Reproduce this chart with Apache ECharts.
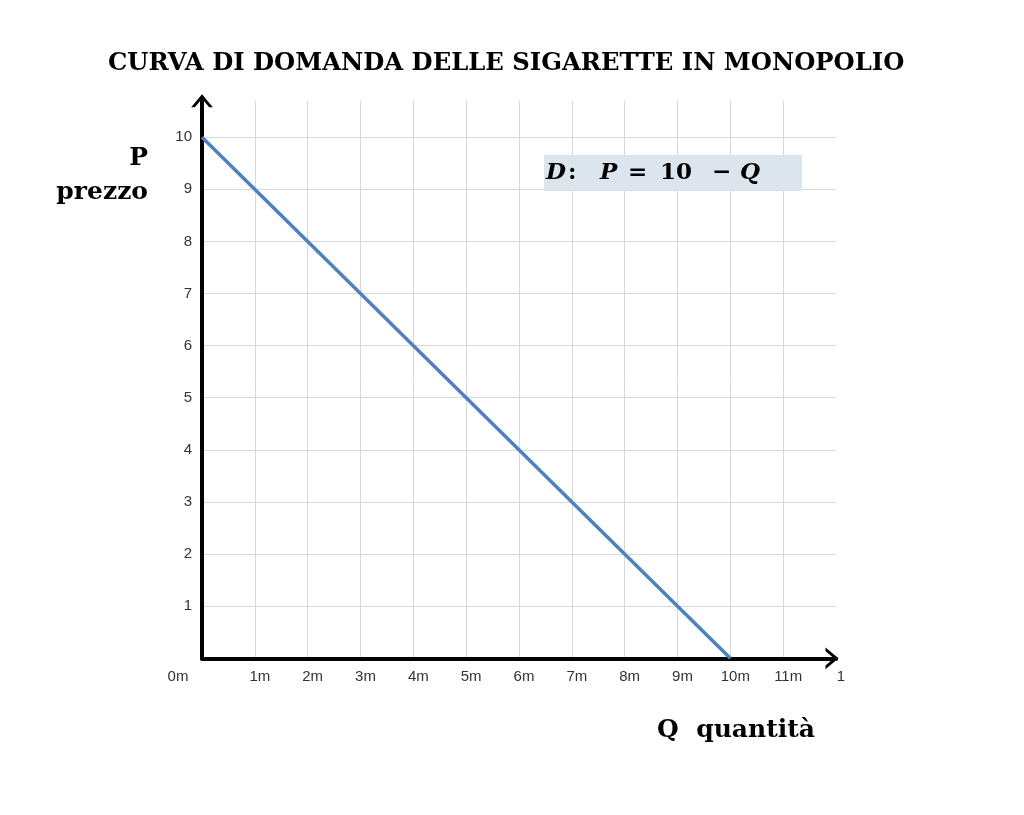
<!DOCTYPE html>
<html>
<head>
<meta charset="utf-8">
<script src="https://cdn.jsdelivr.net/npm/echarts@6/dist/echarts.min.js"></script>
<style>
html,body{margin:0;padding:0;background:#fff;}
#chart{width:1024px;height:815px;}
</style>
</head>
<body>
<div id="chart"></div>
<script>
// Data
const titleText = 'CURVA DI DOMANDA DELLE SIGARETTE IN MONOPOLIO';
const quantity = [0, 10];      // Q (millions)
const price = [10, 0];         // P
const xTickLabels = ['0m','1m','2m','3m','4m','5m','6m','7m','8m','9m','10m','11m','1'];
const yTickLabels = ['', '1','2','3','4','5','6','7','8','9','10'];

const chevron = 'path://M0,12 L10,0 L20,12 L16.6,12 L10,4.2 L3.4,12 Z';
const serif = '"DejaVu Serif", "Liberation Serif", serif';

const chart = echarts.init(document.getElementById('chart'));
chart.setOption({
  backgroundColor: '#ffffff',
  animation: false,
  title: [
    { text: titleText, left: 103, top: 47,
      textStyle: { fontFamily: serif, fontWeight: 'bold', fontSize: 24.3, color: '#000' } },
    { text: 'P\nprezzo', left: 143, top: 136, textAlign: 'right',
      textStyle: { fontFamily: serif, fontWeight: 'bold', fontSize: 25, lineHeight: 34, color: '#000', align: 'right' } },
    { text: 'Q  quantità', left: 652, top: 713,
      textStyle: { fontFamily: serif, fontWeight: 'bold', fontSize: 25, color: '#000' } },
    { text: '{i1|D}{c|:}{i2|P}{e|=}{t|10}{m|−}{i3|Q}', left: 544, top: 155,
      backgroundColor: '#dce4ee', padding: [7, 42, 6, 2],
      textStyle: {
        rich: {
          i1: { fontFamily: serif, fontWeight: 'bold', fontStyle: 'italic', fontSize: 23, color: '#000', width: 22 },
          c:  { fontFamily: serif, fontWeight: 'bold', fontSize: 23, color: '#000', width: 32 },
          i2: { fontFamily: serif, fontWeight: 'bold', fontStyle: 'italic', fontSize: 23, color: '#000', width: 28 },
          e:  { fontFamily: serif, fontWeight: 'bold', fontSize: 23, color: '#000', width: 32 },
          t:  { fontFamily: serif, fontWeight: 'bold', fontSize: 23, color: '#000', width: 52 },
          m:  { fontFamily: serif, fontWeight: 'bold', fontSize: 23, color: '#000', width: 28 },
          i3: { fontFamily: serif, fontWeight: 'bold', fontStyle: 'italic', fontSize: 23, color: '#000' }
        }
      } }
  ],
  grid: { left: 202, right: 188, top: 100.7, bottom: 156.7, containLabel: false },
  xAxis: {
    type: 'value', min: 0, max: 12, interval: 1,
    axisLine: { show: true, lineStyle: { color: '#000', width: 4 },
      symbol: ['none', chevron], symbolSize: [22, 13], symbolOffset: [0, -4] },
    axisTick: { show: false },
    splitLine: { show: true, showMaxLine: false, lineStyle: { color: '#d9d9d9', width: 1 } },
    axisLabel: {
      margin: 11, fontSize: 15, color: '#333', fontFamily: '"Liberation Sans", Arial, sans-serif',
      showMaxLabel: true,
      formatter: function (v) {
        const s = xTickLabels[Math.round(v)];
        if (Math.round(v) === 0) return '{z|' + s + '}';
        return '{r|' + s + '}';
      },
      rich: {
        z: { fontSize: 15, color: '#333', padding: [0, 48, 0, 0] },
        r: { fontSize: 15, color: '#333', padding: [0, 0, 0, 10] }
      }
    }
  },
  yAxis: {
    type: 'value', min: 0, max: 10.7, interval: 1,
    axisLine: { show: true, lineStyle: { color: '#000', width: 4 },
      symbol: ['none', chevron], symbolSize: [22, 13], symbolOffset: [0, 0] },
    axisTick: { show: false },
    splitLine: { show: true, showMaxLine: false, showMinLine: false, lineStyle: { color: '#d9d9d9', width: 1 } },
    axisLabel: {
      margin: 10, fontSize: 15, color: '#333', fontFamily: '"Liberation Sans", Arial, sans-serif',
      showMaxLabel: false,
      formatter: function (v) { return yTickLabels[Math.round(v)] || ''; }
    }
  },
  series: [{
    type: 'line',
    data: quantity.map((q, i) => [q, price[i]]),
    symbol: 'none',
    lineStyle: { color: '#4f81bd', width: 3.5 },
    z: 1
  }]
});
</script>
</body>
</html>
